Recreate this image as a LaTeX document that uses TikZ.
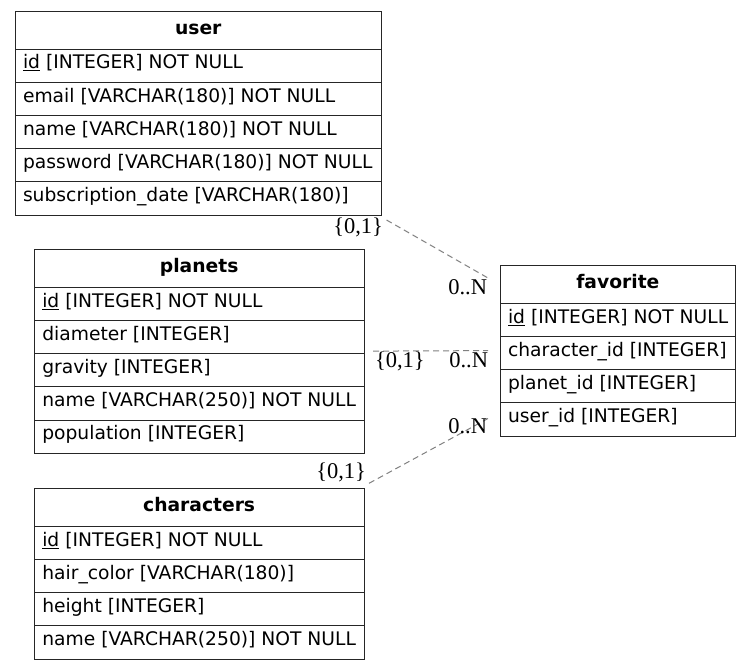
\documentclass[tikz,border=0pt]{standalone}
\usepackage{fontspec}
\setmainfont{DejaVu Sans}
\newfontfamily\lblfont{Liberation Serif}
\usetikzlibrary{calc}
\newcommand\rs{\rule[-9.1pt]{0pt}{24.6pt}}
\newcommand\hst{\rule[-7.4pt]{0pt}{23.4pt}}
\newcommand\rw[2]{\makebox[#1pt][l]{\rs#2}}
\newcommand\pk[1]{\underline{#1}}
\tikzset{
  tbl/.style={draw=black!85, line width=1pt, inner xsep=8pt, inner ysep=0pt, outer sep=0pt,
    font=\fontsize{18.7pt}{22pt}\selectfont},
  hdr/.style={tbl, minimum height=38pt, anchor=north west,
    font=\fontsize{18.7pt}{22pt}\selectfont\bfseries},
  fld/.style={tbl, minimum height=33.2pt, anchor=north west},
  card/.style={font=\fontsize{22.5pt}{26pt}\lblfont, inner sep=0pt, outer sep=0pt},
  rel/.style={draw=gray, dash pattern=on 6pt off 4pt, line width=1pt}
}
\begin{document}
\begin{tikzpicture}[x=1pt,y=-1pt]
\useasboundingbox (0,0) rectangle (751,670);
% user
\node[hdr, minimum width=366.5pt] (user) at (15,11) {\hst user};
\node[fld] (user1) at (user.south west) {\rw{350.5}{\pk{id} [INTEGER] NOT NULL}};
\node[fld] (user2) at (user1.south west) {\rw{350.5}{email [VARCHAR(180)] NOT NULL}};
\node[fld] (user3) at (user2.south west) {\rw{350.5}{name [VARCHAR(180)] NOT NULL}};
\node[fld] (user4) at (user3.south west) {\rw{350.5}{password [VARCHAR(180)] NOT NULL}};
\node[fld] (user5) at (user4.south west) {\rw{350.5}{subscription\_date [VARCHAR(180)]}};
% planets
\node[hdr, minimum width=329.7pt] (pl) at (34.3,249.3) {\hst planets};
\node[fld] (pl1) at (pl.south west) {\rw{313.7}{\pk{id} [INTEGER] NOT NULL}};
\node[fld] (pl2) at (pl1.south west) {\rw{313.7}{diameter [INTEGER]}};
\node[fld] (pl3) at (pl2.south west) {\rw{313.7}{gravity [INTEGER]}};
\node[fld] (pl4) at (pl3.south west) {\rw{313.7}{name [VARCHAR(250)] NOT NULL}};
\node[fld] (pl5) at (pl4.south west) {\rw{313.7}{population [INTEGER]}};
% characters
\node[hdr, minimum width=329.7pt] (ch) at (34.3,488.3) {\hst characters};
\node[fld] (ch1) at (ch.south west) {\rw{313.7}{\pk{id} [INTEGER] NOT NULL}};
\node[fld] (ch2) at (ch1.south west) {\rw{313.7}{hair\_color [VARCHAR(180)]}};
\node[fld] (ch3) at (ch2.south west) {\rw{313.7}{height [INTEGER]}};
\node[fld] (ch4) at (ch3.south west) {\rw{313.7}{name [VARCHAR(250)] NOT NULL}};
% favorite
\node[hdr, minimum width=235.7pt, minimum height=37.6pt] (fav) at (500,265.7) {\hst favorite};
\node[fld] (fav1) at (fav.south west) {\rw{219.7}{\pk{id} [INTEGER] NOT NULL}};
\node[fld] (fav2) at (fav1.south west) {\rw{219.7}{character\_id [INTEGER]}};
\node[fld] (fav3) at (fav2.south west) {\rw{219.7}{planet\_id [INTEGER]}};
\node[fld] (fav4) at (fav3.south west) {\rw{219.7}{user\_id [INTEGER]}};
% connector ends
\coordinate (u1) at ($(user5.south east)+(5,5)$);
\coordinate (f1) at ($(fav.north west)+(-12,12.3)$);
\coordinate (p1) at ($(pl2.south east)+(9,-2.6)$);
\coordinate (f2) at ($(fav2.west)+(-12,-2.5)$);
\coordinate (c1) at ($(ch.north east)+(5,-5)$);
\coordinate (f3) at ($(fav4.west)+(-12,-1)$);
\draw[rel] (u1) -- (f1);
\draw[rel] (p1) -- (f2);
\draw[rel] (c1) -- (f3);
% cardinalities
\node[card, anchor=base east] (l1) at (383,233) {\{0,1\}};
\node[card, anchor=base east] (l2) at (487,294) {0..N};
\node[card, anchor=base west] (l3) at (375,367) {\{0,1\}};
\node[card, anchor=base east] (l4) at (488,367) {0..N};
\node[card, anchor=base east] (l5) at (366,478) {\{0,1\}};
\node[card, anchor=base east] (l6) at (487,433) {0..N};
\end{tikzpicture}
\end{document}
